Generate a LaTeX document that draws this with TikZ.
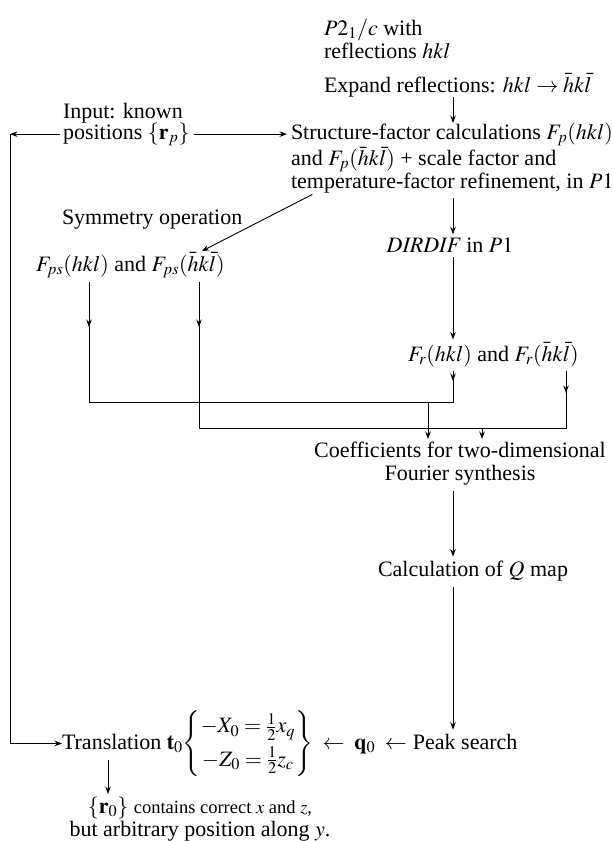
\documentclass[tikz,border=0pt]{standalone}
\usepackage{amsmath}
\usepackage{mathptmx}
\usepackage[no-math]{fontspec}
\setmainfont{Liberation Serif}
\usetikzlibrary{arrows.meta}
\newcommand{\fsz}{\fontsize{22}{22.8}\selectfont}
\newcommand{\fsm}{\fontsize{18.5}{22.8}\selectfont}
\tikzset{
  txt/.style={inner sep=0pt, outer sep=0pt, font=\fsz},
  arr/.style={-{Stealth[length=7.5pt,width=5.5pt,inset=2.5pt]}},
}
\begin{document}
\begin{tikzpicture}[x=1pt,y=-1pt,line width=0.9pt]
\useasboundingbox (0,0) rectangle (613,841);
% columns and levels
\coordinate (cx) at (453,0);
\coordinate (cr) at (566,0);
\coordinate (c1) at (89,0);
\coordinate (c2) at (199,0);
\coordinate (k1) at (428,0);
\coordinate (k2) at (482,0);
\coordinate (lx) at (10,0);
\coordinate (bx) at (108,0);
\coordinate (ya) at (0,402);
\coordinate (yb) at (0,428);
\coordinate (ha) at (0,381);
\coordinate (hb) at (0,393);
\coordinate (hp) at (0,327);
% texts
\node[txt, anchor=north west, align=left] (p2) at (324,19) {$P2_1/c$ with\\reflections $hkl$};
\node[txt, anchor=base west] (expand) at (324,92) {Expand reflections: $hkl\rightarrow\bar hk\bar l$};
\node[txt, anchor=base west] (input) at (63,118) {Input: known};
\node[txt, anchor=base west] (pos) at (63,139) {positions $\{\mathbf r_p\}$};
\node[txt, anchor=north west, align=left] (sf) at (291,123) {Structure-factor calculations $F_p(hkl)$\\and $F_p(\bar hk\bar l)$ + scale factor and\\temperature-factor refinement, in $P1$};
\node[txt, anchor=base west] (symm) at (62,224) {Symmetry operation};
\node[txt, anchor=base] (dirdif) at (450,252) {$\mathit{DIRDIF}$ in $P1$};
\node[txt, anchor=base west] (fps) at (36,271) {$F_{ps}(hkl)$ and $F_{ps}(\bar hk\bar l)$};
\node[txt, anchor=base west] (fr) at (408,361) {$F_r(hkl)$ and $F_r(\bar hk\bar l)$};
\node[txt, anchor=north, align=center] (coef) at (460,442) {Coefficients for two-dimensional\\Fourier synthesis};
\node[txt, anchor=base west] (qmap) at (378,576) {Calculation of $Q$ map};
\node[txt, anchor=base west] (trans) at (62,749) {Translation $\mathbf t_0\!\left\{\begin{matrix}-X_0=\tfrac12x_q\\[7pt]-Z_0=\tfrac12z_c\end{matrix}\right\}\;\leftarrow\;\mathbf q_0\;\leftarrow$};
\node[txt, anchor=base west] (peak) at ([xshift=6pt]trans.base east) {Peak search};
\node[txt, anchor=north, align=center] (r0) at (200,797) {$\{\mathbf r_0\}$ {\fsm contains correct $x$ and $z$,}\\but arbitrary position along $y$.};
% connectors
\draw[arr, shorten <=0pt, shorten >=0pt] (expand.south -| cx) -- (sf.north -| cx);
\draw[arr, shorten <=4pt, shorten >=4pt] (pos.east) -- (pos.east -| sf.west);
\draw[arr, shorten <=3pt] (pos.west) -- (lx |- pos.west);
\draw[arr] (lx |- pos.west) -- (lx |- trans.west) -- (trans.west);
\draw[arr, shorten <=3pt, shorten >=3pt] ([xshift=24pt]sf.south west) -- (fps.north -| c2);
\draw[arr, shorten <=5pt, shorten >=3pt] (sf.south -| cx) -- (dirdif.north -| cx);
\draw[arr, shorten <=5pt, shorten >=3pt] (dirdif.south -| cx) -- (fr.north -| cx);
% merging lines
\draw[arr] ([yshift=-4pt]fr.south -| cx) -- (cx |- ha);
\draw[line join=miter] ([yshift=-4pt]fr.south -| cx) -- (cx |- ya) -- (c1 |- ya) -- ([yshift=-4pt]fps.south -| c1);
\draw[arr] ([yshift=-4pt]fps.south -| c1) -- (c1 |- hp);
\draw[arr] ([yshift=-4pt]fr.south -| cr) -- (cr |- hb);
\draw[line join=miter] ([yshift=-4pt]fr.south -| cr) -- (cr |- yb) -- (c2 |- yb) -- ([yshift=-4pt]fps.south -| c2);
\draw[arr] ([yshift=-4pt]fps.south -| c2) -- (c2 |- hp);
\draw[arr, shorten >=3pt] (k1 |- ya) -- (coef.north -| k1);
\draw[arr, shorten >=3pt] (k2 |- yb) -- (coef.north -| k2);
\draw[arr, shorten <=6pt, shorten >=4pt] (coef.south -| cx) -- (qmap.north -| cx);
\draw[arr, shorten <=6pt, shorten >=4pt] (qmap.south -| cx) -- (peak.north -| cx);
\draw[arr, shorten >=3pt] ([yshift=-11pt]trans.base -| bx) -- (r0.north -| bx);
\end{tikzpicture}
\end{document}
